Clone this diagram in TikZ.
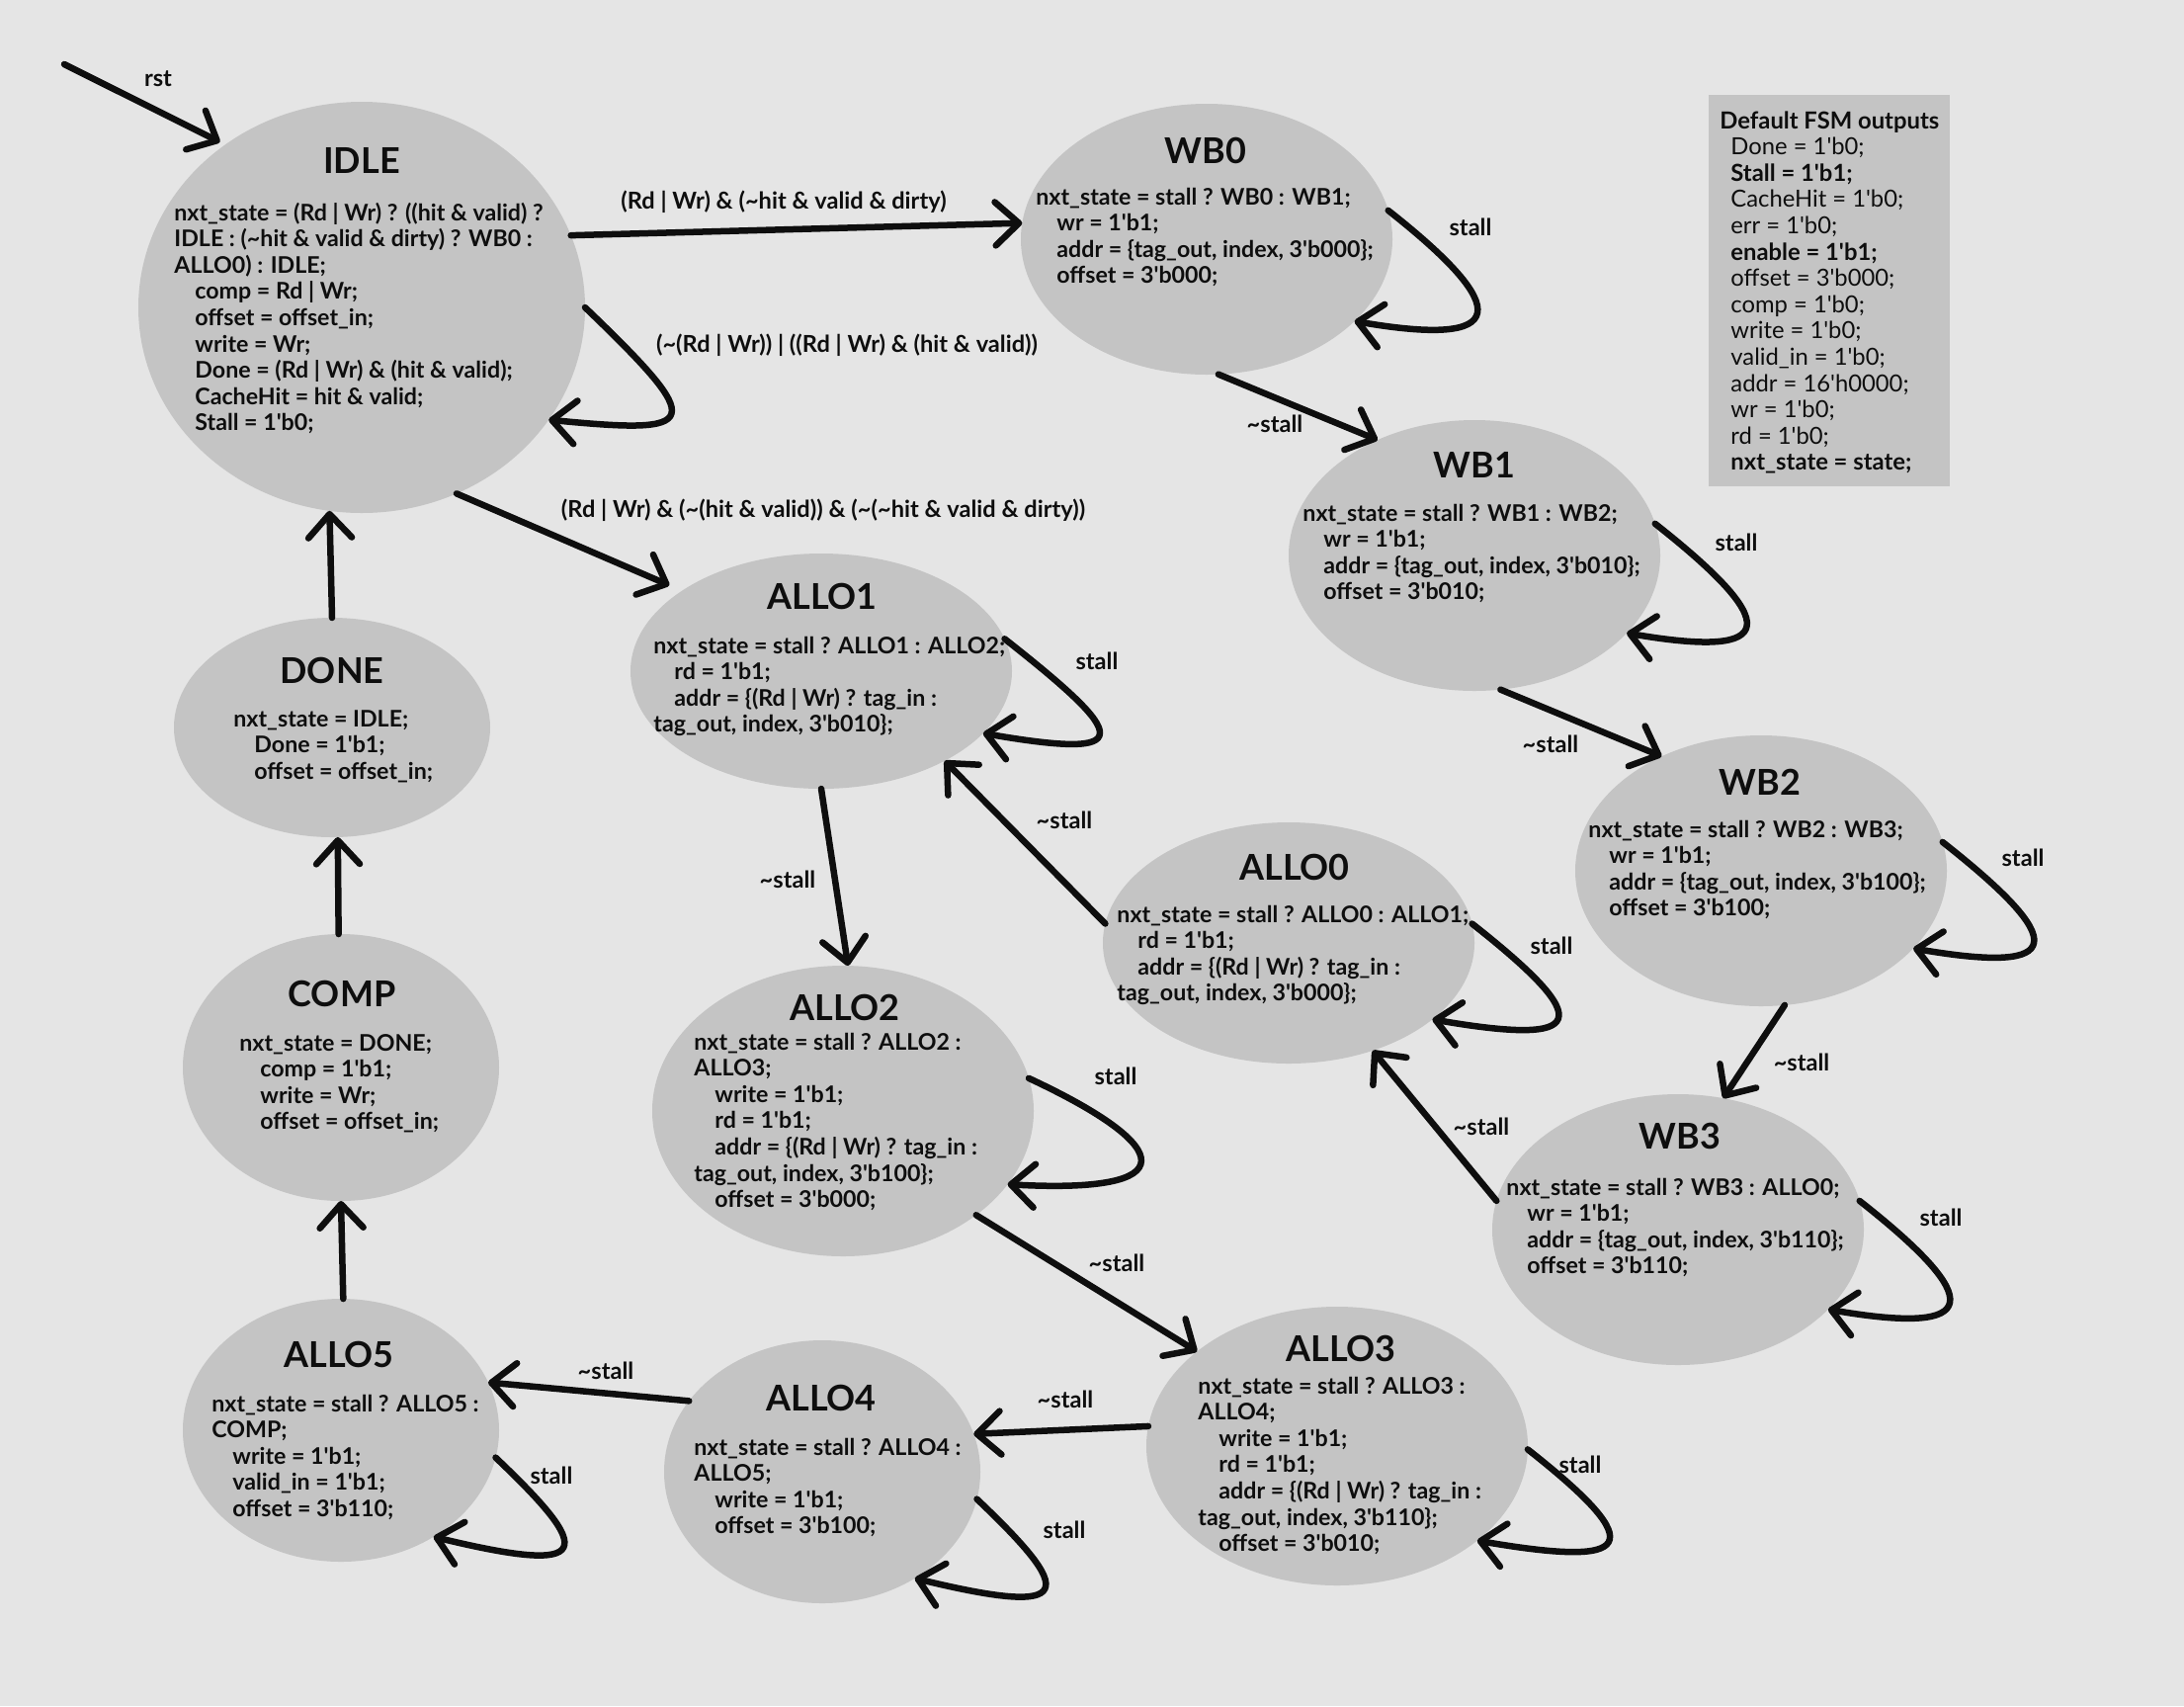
\documentclass[tikz,border=0pt]{standalone}
\usepackage{fontspec}
\setmainfont{Lato}
\usetikzlibrary{arrows.meta,shapes.geometric}
\definecolor{bgc}{HTML}{E5E5E5}
\definecolor{stc}{HTML}{C4C4C4}
\definecolor{ink}{HTML}{0E0E0E}
\newcommand{\ap}{\textquotesingle}
\newcommand{\TIL}{\textasciitilde}
\newcommand{\ind}{\hspace*{10.5pt}}
\newcommand{\bind}{\hspace*{5.5pt}}
\newcommand{\lines}[1]{\begin{tabular}[t]{@{}l@{}}#1\end{tabular}}
\begin{document}
\begin{tikzpicture}[x=0.5pt,y=-0.5pt,
  state/.style 2 args={ellipse,fill=stc,draw=none,inner sep=0pt,outer sep=0pt,minimum width=#1pt,minimum height=#2pt},
  ttl/.style={font=\fontsize{18}{21}\selectfont\bfseries,text=ink,anchor=base,inner sep=0pt},
  body/.style={font=\fontsize{11.6}{13.3}\selectfont\bfseries,text=ink,anchor=base west,inner sep=0pt},
  lbl/.style={font=\fontsize{11.8}{13}\selectfont\bfseries,text=ink,inner sep=0pt},
  edge/.style={draw=ink,line width=3.25pt,line cap=round,line join=round,-{Straight Barb[length=12pt,width=22pt,round]}}
]
\useasboundingbox (0,0) rectangle (2210,1726);
\fill[bgc] (0,0) rectangle (2210,1726);

% ---------- states ----------
\node[state={226}{208}] (idle) at (366,311) {};
\node[state={188}{137}] (wb0) at (1221,242) {};
\node[state={188}{137}] (wb1) at (1492,562) {};
\node[state={188}{137}] (wb2) at (1782,881) {};
\node[state={188}{137}] (wb3) at (1698,1244) {};
\node[state={188}{122}] (allo0) at (1304,954) {};
\node[state={193}{119}] (allo1) at (831,679) {};
\node[state={193}{147}] (allo2) at (853,1124) {};
\node[state={193}{141}] (allo3) at (1353,1463) {};
\node[state={160}{133}] (allo4) at (832,1489) {};
\node[state={160}{133}] (allo5) at (345,1447) {};
\node[state={160}{111}] (done) at (336,736) {};
\node[state={160}{135}] (comp) at (345,1080) {};

% ---------- titles ----------
\node[ttl] (idleH) at (366,175) {IDLE};
\node[ttl] (wb0H) at (1220,165) {WB0};
\node[ttl] (wb1H) at (1492,483) {WB1};
\node[ttl] (wb2H) at (1781,804) {WB2};
\node[ttl] (wb3H) at (1700,1162) {WB3};
\node[ttl] (allo0H) at (1310,890) {ALLO0};
\node[ttl] (allo1H) at (832,616) {ALLO1};
\node[ttl] (allo2H) at (855,1032) {ALLO2};
\node[ttl] (allo3H) at (1357,1377) {ALLO3};
\node[ttl] (allo4H) at (831,1427) {ALLO4};
\node[ttl] (allo5H) at (343,1383) {ALLO5};
\node[ttl] (doneH) at (336,691) {DONE};
\node[ttl] (compH) at (346,1018) {COMP};

% ---------- bodies ----------
\node[body] (idleT) at (176,223) {\lines{
nxt\_state = (Rd | Wr) ? ((hit \& valid) ?\\
IDLE : (\TIL hit \& valid \& dirty) ? WB0 :\\
ALLO0) : IDLE;\\
\ind comp = Rd | Wr;\\
\ind offset = offset\_in;\\
\ind write = Wr;\\
\ind Done = (Rd | Wr) \& (hit \& valid);\\
\ind CacheHit = hit \& valid;\\
\ind Stall = 1\ap b0;}};
\node[body] (wb0T) at (1048,207) {\lines{
nxt\_state = stall ? WB0 : WB1;\\
\ind wr = 1\ap b1;\\
\ind addr = \{tag\_out, index, 3\ap b000\};\\
\ind offset = 3\ap b000;}};
\node[body] (wb1T) at (1318,527) {\lines{
nxt\_state = stall ? WB1 : WB2;\\
\ind wr = 1\ap b1;\\
\ind addr = \{tag\_out, index, 3\ap b010\};\\
\ind offset = 3\ap b010;}};
\node[body] (wb2T) at (1607,847) {\lines{
nxt\_state = stall ? WB2 : WB3;\\
\ind wr = 1\ap b1;\\
\ind addr = \{tag\_out, index, 3\ap b100\};\\
\ind offset = 3\ap b100;}};
\node[body] (wb3T) at (1524,1209) {\lines{
nxt\_state = stall ? WB3 : ALLO0;\\
\ind wr = 1\ap b1;\\
\ind addr = \{tag\_out, index, 3\ap b110\};\\
\ind offset = 3\ap b110;}};
\node[body] (allo0T) at (1130,933) {\lines{
nxt\_state = stall ? ALLO0 : ALLO1;\\
\ind rd = 1\ap b1;\\
\ind addr = \{(Rd | Wr) ? tag\_in :\\
tag\_out, index, 3\ap b000\};}};
\node[body] (allo1T) at (661,661) {\lines{
nxt\_state = stall ? ALLO1 : ALLO2;\\
\ind rd = 1\ap b1;\\
\ind addr = \{(Rd | Wr) ? tag\_in :\\
tag\_out, index, 3\ap b010\};}};
\node[body] (allo2T) at (702,1062) {\lines{
nxt\_state = stall ? ALLO2 :\\
ALLO3;\\
\ind write = 1\ap b1;\\
\ind rd = 1\ap b1;\\
\ind addr = \{(Rd | Wr) ? tag\_in :\\
tag\_out, index, 3\ap b100\};\\
\ind offset = 3\ap b000;}};
\node[body] (allo3T) at (1212,1410) {\lines{
nxt\_state = stall ? ALLO3 :\\
ALLO4;\\
\ind write = 1\ap b1;\\
\ind rd = 1\ap b1;\\
\ind addr = \{(Rd | Wr) ? tag\_in :\\
tag\_out, index, 3\ap b110\};\\
\ind offset = 3\ap b010;}};
\node[body] (allo4T) at (702,1472) {\lines{
nxt\_state = stall ? ALLO4 :\\
ALLO5;\\
\ind write = 1\ap b1;\\
\ind offset = 3\ap b100;}};
\node[body] (allo5T) at (214,1428) {\lines{
nxt\_state = stall ? ALLO5 :\\
COMP;\\
\ind write = 1\ap b1;\\
\ind valid\_in = 1\ap b1;\\
\ind offset = 3\ap b110;}};
\node[body] (doneT) at (236,735) {\lines{
nxt\_state = IDLE;\\
\ind Done = 1\ap b1;\\
\ind offset = offset\_in;}};
\node[body] (compT) at (242,1063) {\lines{
nxt\_state = DONE;\\
\ind comp = 1\ap b1;\\
\ind write = Wr;\\
\ind offset = offset\_in;}};

% ---------- default outputs box ----------
\node[fill=stc,draw=none,inner sep=0pt,outer sep=0pt,minimum width=122pt,minimum height=198pt,anchor=north west] (defbox) at (1729,96) {};
\node[body,font=\fontsize{11.9}{13.3}\selectfont] (defT) at (1740,130) {\lines{
\textbf{Default FSM outputs}\\
\bind Done = 1\ap b0;\\
\bind\textbf{Stall = 1\ap b1;}\\
\bind CacheHit = 1\ap b0;\\
\bind err = 1\ap b0;\\
\bind\textbf{enable = 1\ap b1;}\\
\bind offset = 3\ap b000;\\
\bind comp = 1\ap b0;\\
\bind write = 1\ap b0;\\
\bind valid\_in = 1\ap b0;\\
\bind addr = 16\ap h0000;\\
\bind wr = 1\ap b0;\\
\bind rd = 1\ap b0;\\
\bind\textbf{nxt\_state = state;}}};

% ---------- connectors ----------
\coordinate (rst0) at (65,65);
\draw[edge,shorten >=3pt] (rst0) -- (idle.130.6);
\node[lbl] (rstL) at (160,80) {rst};

\draw[edge] (idle.19.7) -- (wb0.175.6);
\node[lbl] (l1) at (793,204) {(Rd | Wr) \& (\TIL hit \& valid \& dirty)};

\draw[edge] (idle.0) .. controls +(125,120) and +(155,15) .. (idle.329.3);
\node[lbl] (l2) at (857,349) {(\TIL(Rd | Wr)) | ((Rd | Wr) \& (hit \& valid))};

\draw[edge,shorten >=7pt] (idle.297.4) -- (allo1.150.3);
\node[lbl] (l3) at (833,516) {(Rd | Wr) \& (\TIL(hit \& valid)) \& (\TIL(\TIL hit \& valid \& dirty))};

\draw[edge] (done.90.3) -- (idle.261.3);
\draw[edge] (comp.91.3) -- (done.273.1);
\draw[edge] (allo5.89.6) -- (comp.270.4);

\draw[edge] (wb0.275) -- (wb1.130.2);
\node[lbl] (l4) at (1290,429) {\TIL stall};
\draw[edge] (wb0.9.7) .. controls +(127,100) and +(157,27) .. (wb0.331.9);
\node[lbl] (l5) at (1488,230) {stall};

\draw[edge] (wb1.10.1) .. controls +(127,100) and +(157,27) .. (wb1.333);
\node[lbl] (l6) at (1757,549) {stall};
\draw[edge] (wb1.281.9) -- (wb2.131);
\node[lbl] (l7) at (1569,753) {\TIL stall};

\draw[edge] (wb2.9.7) .. controls +(127,100) and +(157,27) .. (wb2.333);
\node[lbl] (l8) at (2047,868) {stall};
\draw[edge] (wb2.280.3) -- (wb3.71.3);
\node[lbl] (l9) at (1823,1075) {\TIL stall};

\draw[edge] (wb3.9.7) .. controls +(127,100) and +(157,27) .. (wb3.332.8);
\node[lbl] (l10) at (1964,1232) {stall};
\draw[edge] (wb3.171.2) -- (allo0.308.5);
\node[lbl] (l11) at (1499,1140) {\TIL stall};

\draw[edge] (allo0.6.3) .. controls +(127,100) and +(157,27) .. (allo0.332.8);
\node[lbl] (l12) at (1570,957) {stall};
\draw[edge] (allo0.174.3) -- (allo1.324.4);
\node[lbl] (l13) at (1077,830) {\TIL stall};

\draw[edge] (allo1.10) .. controls +(127,100) and +(157,27) .. (allo1.339.3);
\node[lbl] (l14) at (1110,669) {stall};
\draw[edge] (allo1.270.5) -- (allo2.88.1);
\node[lbl] (l15) at (797,890) {\TIL stall};

\draw[edge] (allo2.10.4) .. controls +(150,70) and +(180,10) .. (allo2.336.7);
\node[lbl] (l16) at (1129,1089) {stall};
\draw[edge] (allo2.322.5) -- (allo3.146.3);
\node[lbl] (l17) at (1130,1278) {\TIL stall};

\draw[edge] (allo3.359.1) .. controls +(127,100) and +(157,27) .. (allo3.326.2);
\node[lbl] (l18) at (1599,1482) {stall};
\draw[edge] (allo3.174.7) -- (allo4.14.5);
\node[lbl] (l19) at (1078,1416) {\TIL stall};

\draw[edge] (allo4.350.8) .. controls +(100,95) and +(165,40) .. (allo4.311.2);
\node[lbl] (l20) at (1077,1548) {stall};
\draw[edge] (allo4.152.4) -- (allo5.18.2);
\node[lbl] (l21) at (613,1387) {\TIL stall};

\draw[edge] (allo5.350.8) .. controls +(100,95) and +(165,40) .. (allo5.311.3);
\node[lbl] (l22) at (558,1493) {stall};
\end{tikzpicture}
\end{document}
